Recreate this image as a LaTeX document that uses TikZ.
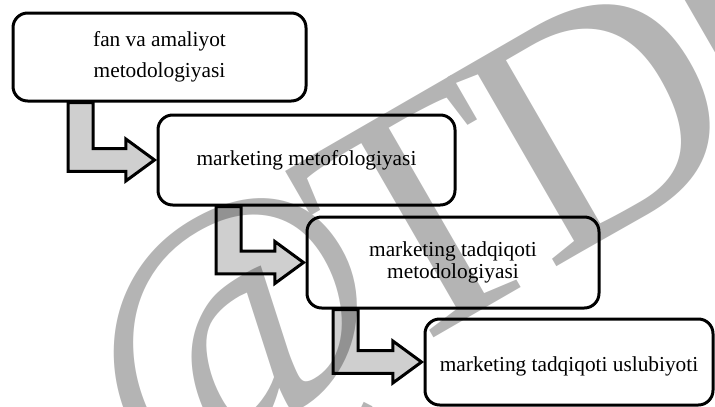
\documentclass[tikz,border=0pt]{standalone}
\usepackage{fontspec}
\setmainfont{Liberation Serif}
\usetikzlibrary{calc}
\definecolor{wmgray}{RGB}{180,180,180}

% L-shaped block arrow from the bottom of #1 to the left side of #2;
% #3 is the x position of the stem's left edge.
\newcommand\blockarrow[3]{%
  \draw[flow] let \p1=(#1.south), \p2=(#2.west) in
    ({#3*0.75pt},\y1) -- ({#3*0.75pt},\y2-8.6pt)
    -- (\x2-23pt,\y2-8.6pt) -- (\x2-23pt,\y2-15.75pt)
    -- (\x2-1.5pt,\y2)
    -- (\x2-23pt,\y2+15.75pt) -- (\x2-23pt,\y2+8.6pt)
    -- ({#3*0.75pt+18.75pt},\y2+8.6pt) -- ({#3*0.75pt+18.75pt},\y1) -- cycle;}

\begin{document}
\begin{tikzpicture}[x=0.75pt,y=-0.75pt,
  stage/.style={draw=black, line width=2.25pt, rounded corners=11pt,
    align=center, inner sep=0pt},
  flow/.style={draw=black, line width=2.25pt, fill=black, fill opacity=0.19,
    draw opacity=1, miter limit=10}]
\useasboundingbox (0,0) rectangle (715,407);

% background lettering
\begin{scope}
  \clip (0,0) rectangle (715,407);
  \node[text=wmgray, font=\fontsize{250}{250}\selectfont, anchor=base west,
        rotate=30, inner sep=0pt] (wm) at (152,500)
    {@\kern-0.1em T\kern-0.06em D\kern-0.08em\raisebox{0.12em}{I}};
\end{scope}

\node[stage, minimum width=219.75pt, minimum height=66pt,
      font=\fontsize{16}{23.25}\selectfont] (b1) at (159.5,57)
  {fan va amaliyot\\metodologiyasi};
\node[stage, minimum width=222.75pt, minimum height=67.5pt,
      font=\fontsize{16}{19}\selectfont] (b2) at (306.5,160)
  {marketing metofologiyasi};
\node[stage, minimum width=219pt, minimum height=68.25pt,
      font=\fontsize{16}{16.5}\selectfont] (b3) at (453,262.5)
  {marketing tadqiqoti\\metodologiyasi};
\node[stage, minimum width=216pt, minimum height=64.5pt,
      font=\fontsize{16}{19}\selectfont] (b4) at (569,362)
  {\raisebox{-3pt}[\height][\depth]{marketing tadqiqoti uslubiyoti}};

\blockarrow{b1}{b2}{68}
\blockarrow{b2}{b3}{216}
\blockarrow{b3}{b4}{333}
\end{tikzpicture}
\end{document}
